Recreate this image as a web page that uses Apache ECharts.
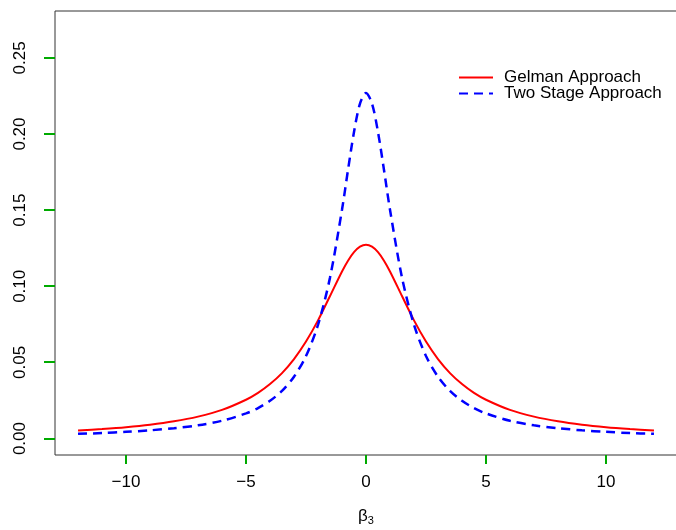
<!DOCTYPE html>
<html>
<head>
<meta charset="utf-8">
<script src="https://cdn.jsdelivr.net/npm/echarts@6/dist/echarts.min.js"></script>
<style>
  html, body { margin: 0; padding: 0; background: #fff; }
  #chart { width: 676px; height: 530px; }
</style>
</head>
<body>
<div id="chart"></div>
<script>
// beta_3 grid and densities
var betas = [-12, -11, -10, -9, -8, -7, -6, -5, -4.5, -4, -3.5, -3, -2.5, -2, -1.5, -1, -0.75, -0.5, -0.25, 0,
             0.25, 0.5, 0.75, 1, 1.5, 2, 2.5, 3, 3.5, 4, 4.5, 5, 6, 7, 8, 9, 10, 11, 12];
var gelman = [0.0053, 0.0063, 0.0075, 0.0091, 0.0113, 0.0144, 0.0188, 0.0255, 0.0300, 0.0358, 0.0430, 0.0522, 0.0637, 0.0776, 0.0936, 0.1097, 0.1168, 0.1224, 0.1260, 0.1273,
              0.1260, 0.1224, 0.1168, 0.1097, 0.0936, 0.0776, 0.0637, 0.0522, 0.0430, 0.0358, 0.0300, 0.0255, 0.0188, 0.0144, 0.0113, 0.0091, 0.0075, 0.0063, 0.0053];
var twoStage = [0.0031, 0.0036, 0.0044, 0.0054, 0.0068, 0.0087, 0.0117, 0.0165, 0.0200, 0.0248, 0.0313, 0.0406, 0.0542, 0.0747, 0.1057, 0.1503, 0.1764, 0.2013, 0.2200, 0.2270,
                0.2200, 0.2013, 0.1764, 0.1503, 0.1057, 0.0747, 0.0542, 0.0406, 0.0313, 0.0248, 0.0200, 0.0165, 0.0117, 0.0087, 0.0068, 0.0054, 0.0044, 0.0036, 0.0031];
var xTicks = [-10, -5, 0, 5, 10];
var yTicks = [0, 0.05, 0.10, 0.15, 0.20, 0.25];
var seriesNames = ['Gelman Approach', 'Two Stage Approach'];

var xMin = -12.96, xMax = 12.96;   // R pads the range by 4%
var yMin = -0.0108, yMax = 0.2808;

function pairs(ys) {
  return betas.map(function (b, i) { return [b, ys[i]]; });
}

var font = 'Liberation Sans, Arial, sans-serif';
var myChart = echarts.init(document.getElementById('chart'));
var option = {
  animation: false,
  backgroundColor: '#fff',
  grid: {
    left: 55, top: 11, width: 622, bottom: 75,
    outerBoundsMode: 'none', containLabel: false,
    show: true, borderColor: '#333', borderWidth: 1
  },
  legend: {
    orient: 'vertical',
    left: 453, top: 64,
    itemWidth: 34, itemHeight: 14, itemGap: -1,
    itemStyle: { opacity: 0 },
    textStyle: { fontFamily: font, fontSize: 17, color: '#000', padding: [0, 0, 0, 6] },
    data: seriesNames
  },
  xAxis: {
    type: 'value',
    min: xMin, max: xMax,
    name: '{b|β}{s|3}',
    nameLocation: 'middle',
    nameGap: 52,
    nameTextStyle: {
      rich: {
        b: { fontFamily: font, fontSize: 17, color: '#000' },
        s: { fontFamily: font, fontSize: 11, color: '#000', padding: [8, 0, 0, 0] }
      }
    },
    splitLine: { show: false },
    axisLine: { show: false, onZero: false },
    axisTick: { show: false },
    axisLabel: {
      customValues: xTicks, margin: 19,
      fontFamily: font, fontSize: 17, color: '#000',
      formatter: function (v) { return v < 0 ? '\u2212' + Math.abs(v) : String(v); }
    }
  },
  yAxis: {
    type: 'value',
    min: yMin, max: yMax,
    splitLine: { show: false },
    axisLine: { show: false, onZero: false },
    axisTick: { show: false },
    axisLabel: {
      customValues: yTicks, rotate: 90, margin: 26,
      fontFamily: font, fontSize: 17, color: '#000',
      formatter: function (v) { return v.toFixed(2); }
    }
  },
  series: [
    {
      name: seriesNames[0],
      type: 'line',
      data: pairs(gelman),
      smooth: 0.3,
      symbol: 'none',
      lineStyle: { color: '#ff0000', width: 2 },
      itemStyle: { color: '#ff0000' }
    },
    {
      name: seriesNames[1],
      type: 'line',
      data: pairs(twoStage),
      smooth: 0.3,
      symbol: 'none',
      lineStyle: { color: '#0000ff', width: 2.5, type: [9, 6] },
      itemStyle: { color: '#0000ff' }
    }
  ]
};
myChart.setOption(option);

// outward tick marks, placed through the chart's own scales
var ticks = [];
xTicks.forEach(function (v) {
  var p = myChart.convertToPixel({ gridIndex: 0 }, [v, yMin]);
  ticks.push({ type: 'rect', silent: true, z: 100,
    shape: { x: Math.round(p[0]) - 1, y: Math.round(p[1]), width: 2, height: 9 },
    style: { fill: '#00aa00' } });
});
yTicks.forEach(function (v) {
  var p = myChart.convertToPixel({ gridIndex: 0 }, [xMin, v]);
  ticks.push({ type: 'rect', silent: true, z: 100,
    shape: { x: Math.round(p[0]) - 11, y: Math.round(p[1]) - 1, width: 11, height: 2 },
    style: { fill: '#00aa00' } });
});
myChart.setOption({ graphic: { elements: ticks } });
</script>
</body>
</html>
